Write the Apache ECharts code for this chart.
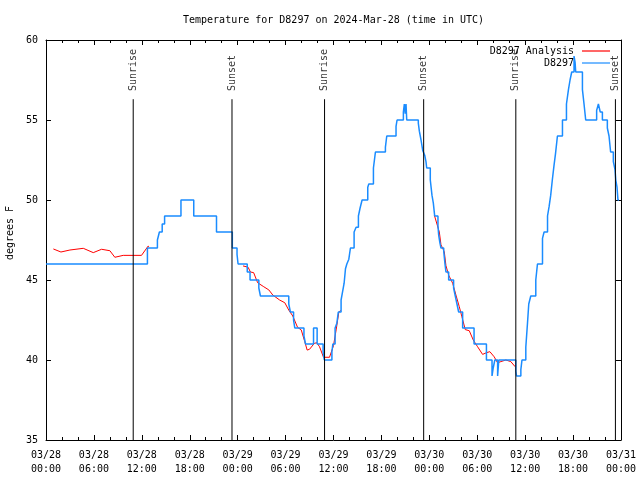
<!DOCTYPE html>
<html><head><meta charset="utf-8">
<script src="https://cdn.jsdelivr.net/npm/echarts@6/dist/echarts.min.js"></script>
<style>html,body{margin:0;padding:0;background:#fff}#c{width:640px;height:480px}</style>
</head><body><div id="c"></div>
<script>
// hours since 2024-03-28 00:00 UTC
const tickLabels = ['03/28\n00:00','03/28\n06:00','03/28\n12:00','03/28\n18:00','03/29\n00:00','03/29\n06:00','03/29\n12:00','03/29\n18:00','03/30\n00:00','03/30\n06:00','03/30\n12:00','03/30\n18:00','03/31\n00:00'];
const eventTimes = [10.92, 23.29, 34.88, 47.29, 58.83, 71.3];
const eventNames = ['Sunrise','Sunset','Sunrise','Sunset','Sunrise','Sunset'];

// observations (D8297), value holds from the given hour onward
const obs = [
 [0,46],[12.7,47],[13.95,47.5],[14.2,48],[14.55,48.5],[14.85,49],[16.9,50],[18.5,49],[21.35,48],
 [23.33,47],[23.92,46.6],[24.05,46],[25.2,45.5],[25.55,45],[26.65,44.5],[26.85,44],
 [30.4,43.5],[30.6,43],[31.0,42.5],[31.15,42],[32.3,41.5],[32.5,41],[33.5,42],[33.95,41],
 [34.7,40.5],[34.85,40],[35.8,40.5],[35.92,41],[36.2,42],[36.42,42.3],[36.6,43],[36.95,43.75],
 [37.15,44.3],[37.33,44.8],[37.5,45.7],[37.67,46],[37.92,46.3],[38.12,47],[38.58,48],[38.83,48.3],
 [39.12,49],[39.33,49.5],[39.58,50],[40.29,50.8],[40.42,51],[41.0,52],[41.25,53],[42.5,53.3],
 [42.67,54],[43.83,54.6],[43.96,55],[44.75,55.5],[44.87,56],[44.98,55.4],[45.08,56],[45.17,55],
 [46.62,54.8],[46.75,54.3],[46.96,53.75],[47.17,53.1],[47.42,52.8],[47.58,52.4],[47.67,52],
 [48.12,51.25],[48.33,50.3],[48.5,49.8],[48.67,49],[49.08,48.4],[49.17,47.8],[49.33,47.3],
 [49.46,47],[49.8,46.8],[49.96,46],[50.08,45.5],[50.42,45],[51.04,44.5],[51.25,44],[51.46,43.5],
 [51.67,43],[52.17,42],[53.6,41],[55.15,40],[55.85,39],[56.0,39.5],[56.2,40],[56.55,39],[56.7,40],
 [58.83,39.3],[58.92,39],[59.46,39.4],[59.6,40],[60.08,40.8],[60.29,42.3],[60.45,43.5],[60.7,44],
 [61.33,45],[61.54,46],[62.17,47.6],[62.37,48],[62.8,49],[63.0,49.6],[63.2,50.3],[63.4,51.25],
 [63.62,52.2],[63.8,52.9],[64.04,54],[64.67,55],[65.17,56],[65.42,56.9],[65.62,57.5],[65.83,58],
 [66.12,59],[66.25,58.6],[66.33,58],[67.17,56.9],[67.37,56],[67.58,55],[68.95,55.6],[69.17,56],
 [69.4,55.5],[69.67,55],[70.29,54.5],[70.5,54],[70.7,53],[71.04,52.4],[71.25,51.9],[71.35,51.25],
 [71.5,50.8],[71.62,50],[71.75,50]
];

// analysis (D8297 Analysis), three segments
const anaSeg1 = [[0.92,46.94],[1.87,46.75],[3.0,46.875],[4.67,46.98],[5.92,46.71],[6.96,46.92],[8.0,46.83],[8.62,46.42],[9.67,46.54],[11.96,46.54],[12.79,47.12],[12.9,47.08]];
const anaSeg2 = [[24.67,45.88],[25.3,45.8],[25.6,45.5],[26,45.46],[26.5,44.83],[27.2,44.6],[27.9,44.38],[28.4,44.06],[29.25,43.75],[29.9,43.58],[30.4,43.12],[30.9,42.75],[31.5,42.04],[31.96,41.88],[32.4,41.15],[32.7,40.62],[33,40.67],[33.6,41.04],[33.9,41.08],[34.25,40.83],[34.75,40.17],[35.5,40.17],[35.7,40.2],[36,40.9],[36.33,41.88],[36.67,43.0],[36.9,43.1]];
const anaSeg3 = [[48.62,49.06],[49.25,48.0],[49.46,47.2],[49.87,46.77],[50.08,45.9],[50.42,45.3],[50.92,44.8],[51.33,44.06],[51.75,43.33],[52.08,42.7],[52.5,41.9],[53.0,41.83],[53.5,41.25],[54.04,40.83],[54.67,40.35],[55.17,40.46],[55.58,40.52],[56.12,40.2],[56.54,39.83],[56.96,39.9],[57.58,40.0],[58.2,39.9],[58.75,39.58]];

const FONT = 'DejaVu Sans Mono';
const FS = 10;
const RED = '#ff0000', BLUE = '#1a8cff';
const chart = echarts.init(document.getElementById('c'), null, {renderer:'canvas'});

const axisCommon = {
  axisLine:{show:true,onZero:false,lineStyle:{color:'#000',width:1}},
  splitLine:{show:false}
};
const series = [];
[anaSeg1, anaSeg2, anaSeg3].forEach(seg => series.push({
  name:'D8297 Analysis', type:'line', data:seg, symbol:'none', smooth:false,
  lineStyle:{color:RED,width:1}, itemStyle:{color:RED}, z:2, animation:false
}));
series.push({
  name:'D8297', type:'line', data:obs, step:'end', symbol:'none',
  lineStyle:{color:BLUE,width:1.5}, itemStyle:{color:BLUE}, z:3, animation:false
});
eventTimes.forEach((t,i) => {
  series.push({
    type:'line', data:[[t,35],[t,56.3]], symbol:'none', silent:true,
    lineStyle:{color:'#000',width:1}, z:4, animation:false
  });
  series.push({
    type:'scatter', data:[[t,56.75]], symbolSize:0, silent:true, z:5, animation:false,
    label:{show:true, formatter:eventNames[i], position:'inside', rotate:90, offset:[1,0],
      align:'left', verticalAlign:'middle', color:'#000', fontFamily:FONT, fontSize:FS}
  });
});

chart.setOption({
  animation:false,
  backgroundColor:'#fff',
  title:{text:'Temperature for D8297 on 2024-Mar-28 (time in UTC)', left:183, top:15, padding:0,
    textStyle:{fontFamily:FONT,fontSize:FS,fontWeight:'normal',color:'#000'}},
  legend:{orient:'vertical', right:30, top:45, align:'right', itemWidth:28, itemHeight:1.2, itemGap:0,
    icon:'rect', padding:0,
    data:[{name:'D8297 Analysis',itemStyle:{color:RED}},{name:'D8297',itemStyle:{color:BLUE}}],
    textStyle:{fontFamily:FONT,fontSize:FS,color:'#000',lineHeight:12,padding:[0,3,0,0]}, selectedMode:false},
  grid:{left:46, right:19, top:40, bottom:40, containLabel:false, outerBoundsMode:'none'},
  xAxis:[
    Object.assign({type:'value', min:0, max:72, interval:6, position:'bottom',
      axisTick:{show:true,inside:true,length:5,lineStyle:{color:'#000'}},
      minorTick:{show:true,splitNumber:3,length:3,lineStyle:{color:'#000'}},
      axisLabel:{formatter:v=>tickLabels[Math.round(v/6)], fontFamily:FONT, fontSize:FS, color:'#000', margin:8, lineHeight:14}
    }, axisCommon),
    Object.assign({type:'value', min:0, max:72, interval:6, position:'top',
      axisTick:{show:true,inside:true,length:5,lineStyle:{color:'#000'}},
      minorTick:{show:true,splitNumber:3,length:3,lineStyle:{color:'#000'}},
      axisLabel:{show:false}
    }, axisCommon)
  ],
  yAxis:[
    Object.assign({type:'value', min:35, max:60, interval:5, position:'left',
      name:'degrees F', nameLocation:'middle', nameGap:28,
      nameTextStyle:{fontFamily:FONT,fontSize:FS,color:'#000',padding:[0,0,0,14]},
      axisTick:{show:true,inside:true,length:5,lineStyle:{color:'#000'}},
      axisLabel:{fontFamily:FONT,fontSize:FS,color:'#000',margin:8}
    }, axisCommon),
    Object.assign({type:'value', min:35, max:60, interval:5, position:'right',
      axisTick:{show:true,inside:true,length:5,lineStyle:{color:'#000'}},
      axisLabel:{show:false}
    }, axisCommon)
  ],
  series: series
});
</script></body></html>
